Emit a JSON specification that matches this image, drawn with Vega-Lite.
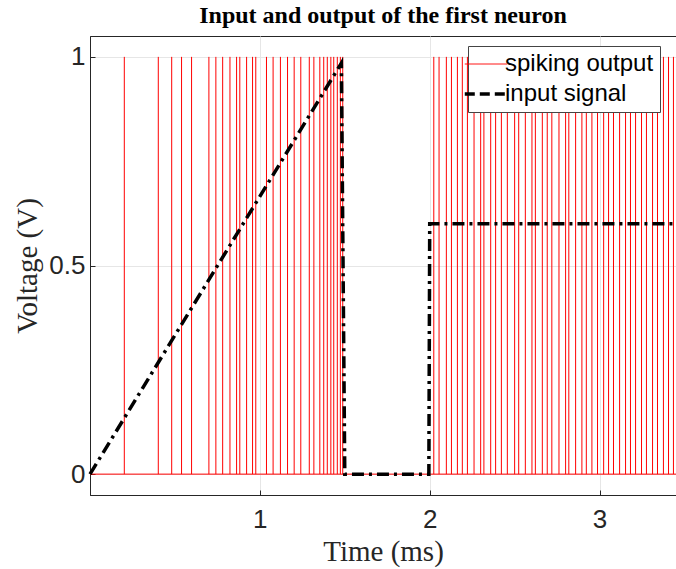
{
  "$schema": "https://vega.github.io/schema/vega-lite/v6.json",
  "width": 586,
  "height": 459,
  "autosize": {"type": "none"},
  "padding": {"left": 90, "top": 36, "right": 0, "bottom": 74},
  "background": "white",
  "title": {
    "text": "Input and output of the first neuron",
    "font": "Liberation Serif",
    "fontSize": 24,
    "fontWeight": "bold",
    "color": "#000000",
    "offset": 8,
    "anchor": "middle"
  },
  "config": {
    "view": {"stroke": "#262626", "strokeWidth": 1},
    "axis": {
      "domainColor": "#262626",
      "tickColor": "#262626",
      "gridColor": "#e6e6e6",
      "labelFont": "Liberation Sans",
      "labelColor": "#262626",
      "labelFontSize": 26,
      "titleFont": "Liberation Serif",
      "titleFontWeight": "normal",
      "titleColor": "#262626",
      "titleFontSize": 29
    }
  },
  "datasets": {
    "spikes": [
      {"t": 0.202}, {"t": 0.402}, {"t": 0.481}, {"t": 0.539}, {"t": 0.598},
      {"t": 0.700}, {"t": 0.741}, {"t": 0.781}, {"t": 0.824}, {"t": 0.863},
      {"t": 0.882}, {"t": 0.922}, {"t": 0.957}, {"t": 0.976}, {"t": 1.039},
      {"t": 1.078}, {"t": 1.121}, {"t": 1.163}, {"t": 1.202}, {"t": 1.241},
      {"t": 1.291}, {"t": 1.318}, {"t": 1.353}, {"t": 1.376}, {"t": 1.397},
      {"t": 1.418}, {"t": 1.435}, {"t": 1.456}, {"t": 1.474}, {"t": 1.488},
      {"t": 2.024}, {"t": 2.055}, {"t": 2.098}, {"t": 2.128}, {"t": 2.163},
      {"t": 2.192}, {"t": 2.222}, {"t": 2.261}, {"t": 2.300}, {"t": 2.319},
      {"t": 2.359}, {"t": 2.388}, {"t": 2.422}, {"t": 2.457}, {"t": 2.500},
      {"t": 2.524}, {"t": 2.563}, {"t": 2.602}, {"t": 2.622}, {"t": 2.663},
      {"t": 2.692}, {"t": 2.719}, {"t": 2.761}, {"t": 2.800}, {"t": 2.819},
      {"t": 2.859}, {"t": 2.896}, {"t": 2.922}, {"t": 2.955}, {"t": 2.988},
      {"t": 3.024}, {"t": 3.053}, {"t": 3.082}, {"t": 3.118}, {"t": 3.153},
      {"t": 3.182}, {"t": 3.212}, {"t": 3.247}, {"t": 3.276}, {"t": 3.312},
      {"t": 3.341}, {"t": 3.376}, {"t": 3.406}, {"t": 3.435}
    ],
    "baseline": [
      {"t0": 0, "t1": 3.45, "v": 0}
    ],
    "input": [
      {"t": 0, "v": 0},
      {"t": 1.48, "v": 0.985},
      {"t": 1.5, "v": 0},
      {"t": 1.995, "v": 0},
      {"t": 2.0, "v": 0.6},
      {"t": 3.45, "v": 0.6}
    ]
  },
  "encoding": {
    "x": {
      "type": "quantitative",
      "scale": {"domain": [0, 3.45], "nice": false, "zero": false},
      "axis": {
        "title": "Time (ms)",
        "values": [1, 2, 3],
        "format": "~g",
        "grid": true,
        "tickSize": -5,
        "labelPadding": 16,
        "titlePadding": 5
      }
    },
    "y": {
      "type": "quantitative",
      "scale": {"domain": [-0.05, 1.05], "nice": false, "zero": false},
      "axis": {
        "title": "Voltage (V)",
        "values": [0, 0.5, 1],
        "format": "~g",
        "grid": true,
        "tickSize": -5,
        "labelPadding": 10,
        "titlePadding": 6
      }
    }
  },
  "layer": [
    {
      "data": {"name": "spikes"},
      "mark": {"type": "rule", "strokeWidth": 1},
      "encoding": {
        "x": {"field": "t", "type": "quantitative"},
        "y": {"datum": 0, "type": "quantitative"},
        "y2": {"datum": 1},
        "color": {
          "datum": "spiking output",
          "type": "nominal",
          "scale": {"domain": ["spiking output", "input signal"], "range": ["#ff0000", "#000000"]},
          "legend": {
            "title": null,
            "orient": "none",
            "legendX": 378,
            "legendY": 10,
            "symbolType": "stroke",
            "symbolSize": 1800,
            "symbolStrokeWidth": 1,
            "labelFont": "Liberation Sans",
            "labelFontSize": 24,
            "labelColor": "#000000",
            "labelOffset": 7,
            "rowPadding": 6,
            "padding": 6,
            "fillColor": "white",
            "strokeColor": "#444444",
            "encode": {
              "symbols": {
                "update": {
                  "strokeDash": {"signal": "datum.value === 'input signal' ? [10, 5] : [1, 0]"},
                  "strokeWidth": {"signal": "datum.value === 'input signal' ? 3.5 : 1"}
                }
              }
            }
          }
        }
      }
    },
    {
      "data": {"name": "baseline"},
      "mark": {"type": "rule", "strokeWidth": 1, "color": "#ff0000"},
      "encoding": {
        "x": {"field": "t0", "type": "quantitative"},
        "x2": {"field": "t1"},
        "y": {"field": "v", "type": "quantitative"}
      }
    },
    {
      "data": {"name": "input"},
      "mark": {"type": "line", "strokeWidth": 3.5, "strokeDash": [12, 5, 3, 5], "strokeCap": "butt"},
      "encoding": {
        "x": {"field": "t", "type": "quantitative"},
        "y": {"field": "v", "type": "quantitative"},
        "color": {"datum": "input signal", "type": "nominal"}
      }
    }
  ]
}
